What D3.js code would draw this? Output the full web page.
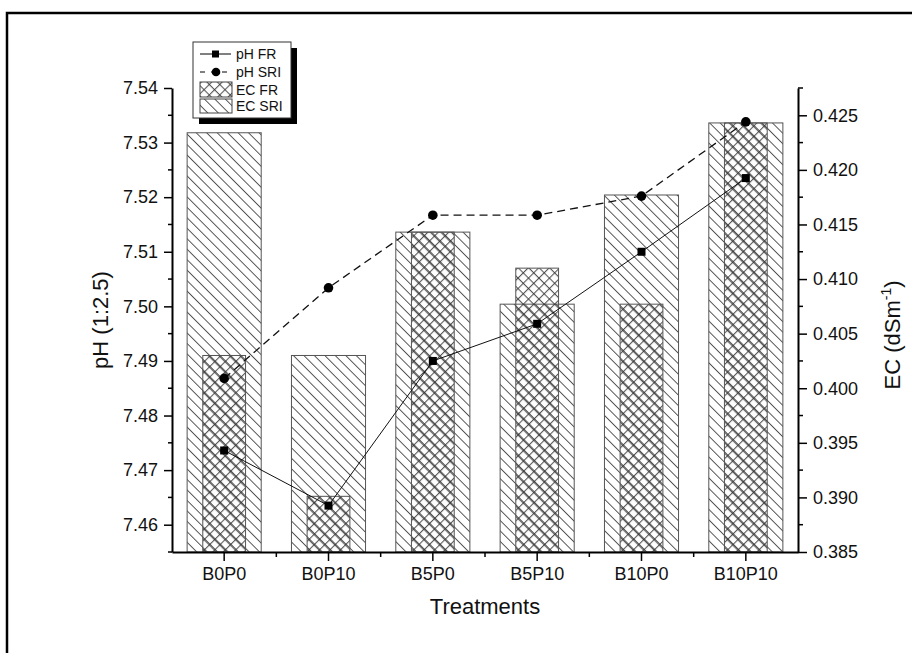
<!DOCTYPE html>
<html>
<head>
<meta charset="utf-8">
<script src="https://cdn.jsdelivr.net/npm/d3@7/dist/d3.min.js"></script>
<style>
  html, body { margin: 0; padding: 0; background: #fff; }
  svg { display: block; }
  text { font-family: "Liberation Sans", Arial, sans-serif; fill: #111; }
</style>
</head>
<body>
<svg id="chart" width="912" height="653"></svg>
<script>
// ---- data ----
const categories = ["B0P0", "B0P10", "B5P0", "B5P10", "B10P0", "B10P10"];
const ecSRI = [0.4234, 0.4030, 0.4143, 0.4077, 0.4177, 0.4243];
const ecFR  = [0.4030, 0.3901, 0.4143, 0.4110, 0.4077, 0.4243];
const phFR  = [7.4736, 7.4635, 7.4900, 7.4968, 7.5100, 7.5235];
const phSRI = [7.4868, 7.5034, 7.5167, 7.5167, 7.5202, 7.5338];
const phTicks = [7.46, 7.47, 7.48, 7.49, 7.50, 7.51, 7.52, 7.53, 7.54];
const ecTicks = [0.385, 0.390, 0.395, 0.400, 0.405, 0.410, 0.415, 0.420, 0.425];
const legendLabels = ["pH FR", "pH SRI", "EC FR", "EC SRI"];

const svg = d3.select("#chart");
const W = 912, H = 653;
const pL = 172, pR = 798, pT = 88, pB = 552;

// outer frame (top and left edges visible)
svg.append("path").attr("d", `M7,${H} L7,13 L${W},13`)
  .attr("fill", "none").attr("stroke", "#000").attr("stroke-width", 2.5);

// patterns
const defs = svg.append("defs");
const pd = defs.append("pattern").attr("id", "diag").attr("patternUnits", "userSpaceOnUse")
  .attr("width", 7.4).attr("height", 7.4).attr("patternTransform", "rotate(-45)");
pd.append("line").attr("x1", 0.5).attr("y1", 0).attr("x2", 0.5).attr("y2", 7.4)
  .attr("stroke", "#444").attr("stroke-width", 0.9);
const pc = defs.append("pattern").attr("id", "cross").attr("patternUnits", "userSpaceOnUse")
  .attr("width", 7.4).attr("height", 7.4).attr("patternTransform", "rotate(45)");
pc.append("line").attr("x1", 0.6).attr("y1", 0).attr("x2", 0.6).attr("y2", 7.4)
  .attr("stroke", "#333").attr("stroke-width", 0.9);
pc.append("line").attr("x1", 0).attr("y1", 0.6).attr("x2", 7.4).attr("y2", 0.6)
  .attr("stroke", "#333").attr("stroke-width", 0.9);

// scales
const x = d3.scaleBand().domain(categories).range([pL, pR]).padding(0);
const yPH = d3.scaleLinear().domain([7.455, 7.54]).range([pB, pT]);
const yEC = d3.scaleLinear().domain([0.385, 0.4275]).range([pB, pT]);

const bw = x.bandwidth();
const wideW = bw * 0.71, narrowW = bw * 0.41;

// bars: SRI (wide)
svg.append("g").selectAll("rect").data(categories).join("rect")
  .attr("x", (d) => x(d) + bw / 2 - wideW / 2)
  .attr("width", wideW)
  .attr("y", (d, i) => yEC(ecSRI[i]))
  .attr("height", (d, i) => yEC(0.385) - yEC(ecSRI[i]))
  .attr("fill", "url(#diag)").attr("stroke", "#555").attr("stroke-width", 1);
// bars: FR (narrow)
svg.append("g").selectAll("rect").data(categories).join("rect")
  .attr("x", (d) => x(d) + bw / 2 - narrowW / 2)
  .attr("width", narrowW)
  .attr("y", (d, i) => yEC(ecFR[i]))
  .attr("height", (d, i) => yEC(0.385) - yEC(ecFR[i]))
  .attr("fill", "url(#cross)").attr("stroke", "#555").attr("stroke-width", 1);

// lines
const cx = (d) => x(d) + bw / 2;
const lineFR = d3.line().x((d, i) => cx(categories[i])).y((d) => yPH(d));
svg.append("path").attr("d", lineFR(phFR)).attr("fill", "none")
  .attr("stroke", "#111").attr("stroke-width", 1);
svg.append("path").attr("d", lineFR(phSRI)).attr("fill", "none")
  .attr("stroke", "#111").attr("stroke-width", 1.3).attr("stroke-dasharray", "8,5");
svg.append("g").selectAll("rect").data(phFR).join("rect")
  .attr("x", (d, i) => cx(categories[i]) - 4).attr("y", (d) => yPH(d) - 4)
  .attr("width", 8).attr("height", 8).attr("fill", "#000");
svg.append("g").selectAll("circle").data(phSRI).join("circle")
  .attr("cx", (d, i) => cx(categories[i])).attr("cy", (d) => yPH(d))
  .attr("r", 4.8).attr("fill", "#000");

// axes
const gx = svg.append("g").attr("transform", `translate(0,${pB})`)
  .call(d3.axisBottom(x).tickSize(9).tickSizeOuter(0).tickPadding(6));
const minorX = categories.slice(1).map((d) => x(d));
svg.append("g").selectAll("line").data(minorX).join("line")
  .attr("x1", (d) => d).attr("x2", (d) => d).attr("y1", pB).attr("y2", pB + 5)
  .attr("stroke", "#000").attr("stroke-width", 1.5);

const gl = svg.append("g").attr("transform", `translate(${pL},0)`)
  .call(d3.axisLeft(yPH).tickValues(phTicks).tickFormat(d3.format(".2f")).tickSize(8).tickSizeOuter(0).tickPadding(6));
const phMinor = phTicks.slice(0, -1).map((d) => d + 0.005).concat([7.455]);
svg.append("g").selectAll("line").data(phMinor).join("line")
  .attr("x1", pL).attr("x2", pL - 4).attr("y1", (d) => yPH(d)).attr("y2", (d) => yPH(d))
  .attr("stroke", "#000").attr("stroke-width", 1.5);

const gr = svg.append("g").attr("transform", `translate(${pR},0)`)
  .call(d3.axisRight(yEC).tickValues(ecTicks).tickFormat(d3.format(".3f")).tickSize(9).tickSizeOuter(0).tickPadding(6));
const ecMinor = ecTicks.map((d) => d + 0.0025);
svg.append("g").selectAll("line").data(ecMinor).join("line")
  .attr("x1", pR).attr("x2", pR + 5).attr("y1", (d) => yEC(d)).attr("y2", (d) => yEC(d))
  .attr("stroke", "#000").attr("stroke-width", 1.5);

[gx, gl, gr].forEach((g) => {
  g.select(".domain").attr("stroke", "#000").attr("stroke-width", 2);
  g.selectAll(".tick line").attr("stroke", "#000").attr("stroke-width", 1.5);
  g.selectAll(".tick text").style("font-family", "Liberation Sans, Arial, sans-serif")
    .style("font-size", "18px").attr("fill", "#111");
});

// axis titles
svg.append("text").attr("x", (pL + pR) / 2).attr("y", 614).attr("text-anchor", "middle")
  .style("font-size", "22px").text("Treatments");
svg.append("text").attr("transform", `translate(108,${(pT + pB) / 2}) rotate(-90)`)
  .attr("text-anchor", "middle").style("font-size", "22px").text("pH (1:2.5)");
const ect = svg.append("text").attr("transform", `translate(900,335) rotate(-90)`)
  .attr("text-anchor", "middle").style("font-size", "22px");
ect.append("tspan").text("EC (dSm");
ect.append("tspan").attr("dy", -9).style("font-size", "14px").text("-1");
ect.append("tspan").attr("dy", 9).text(")");

// legend
const lg = svg.append("g");
const lx = 193, ly = 42, lw = 98, lh = 76;
lg.append("rect").attr("x", lx + 6).attr("y", ly + 6).attr("width", lw).attr("height", lh).attr("fill", "#000");
lg.append("rect").attr("x", lx).attr("y", ly).attr("width", lw).attr("height", lh)
  .attr("fill", "#fff").attr("stroke", "#333").attr("stroke-width", 1);
const rowY = [54, 72, 89.5, 106];
lg.append("line").attr("x1", 200).attr("x2", 231).attr("y1", rowY[0]).attr("y2", rowY[0]).attr("stroke", "#000");
lg.append("rect").attr("x", 212).attr("y", rowY[0] - 3.5).attr("width", 7).attr("height", 7).attr("fill", "#000");
lg.append("line").attr("x1", 200).attr("x2", 231).attr("y1", rowY[1]).attr("y2", rowY[1])
  .attr("stroke", "#000").attr("stroke-dasharray", "5,6");
lg.append("circle").attr("cx", 216).attr("cy", rowY[1]).attr("r", 4.3).attr("fill", "#000");
lg.append("rect").attr("x", 200).attr("y", 82).attr("width", 32).attr("height", 15)
  .attr("fill", "url(#cross)").attr("stroke", "#444");
lg.append("rect").attr("x", 200).attr("y", 99).attr("width", 32).attr("height", 14)
  .attr("fill", "url(#diag)").attr("stroke", "#444");
lg.selectAll("text.lab").data(legendLabels).join("text").attr("class", "lab")
  .attr("x", 236).attr("y", (d, i) => rowY[i] + 5).style("font-size", "14px").text((d) => d);
</script>
</body>
</html>
